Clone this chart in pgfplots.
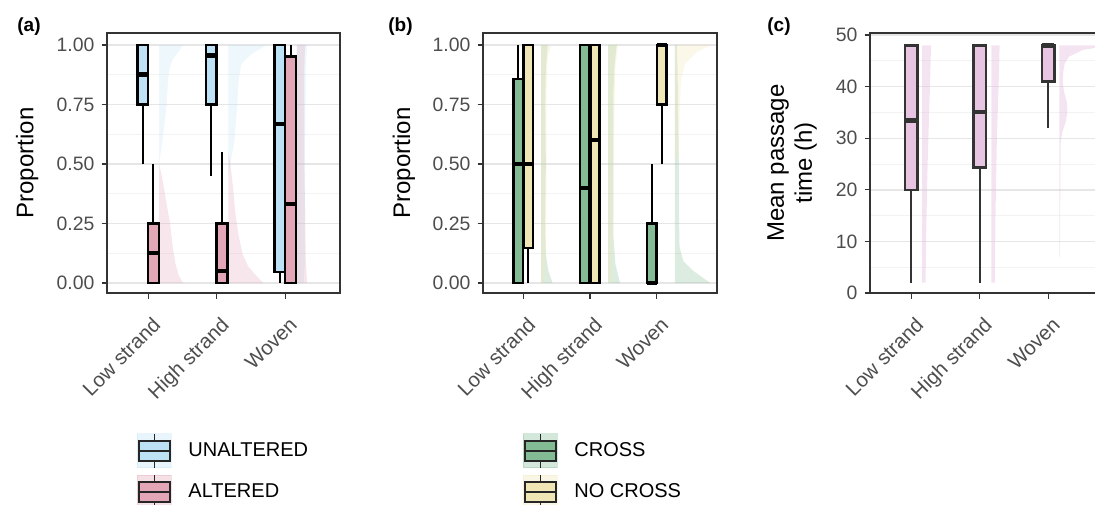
\documentclass[border=0pt]{standalone}
\usepackage{pgfplots}
\pgfplotsset{compat=1.18}
\usepgfplotslibrary{statistics}
\usepackage{fontspec}
\setmainfont{Liberation Sans}

\definecolor{unaltC}{RGB}{190,226,245}
\definecolor{altC}{RGB}{227,166,182}
\definecolor{crossC}{RGB}{130,187,148}
\definecolor{nocrossC}{RGB}{240,229,180}
\definecolor{lilacC}{RGB}{231,196,226}
\definecolor{gray20}{RGB}{51,51,51}
\definecolor{gray30}{RGB}{77,77,77}
\definecolor{gridmaj}{RGB}{230,230,230}
\definecolor{gridmin}{RGB}{243,243,243}

\pgfplotsset{
  panel/.style={
    scale only axis, anchor=south west, height=130pt,
    axis line style={gray20, line width=0.6pt},
    tick align=outside, xtick pos=left, ytick pos=left,
    major tick length=2.75pt, minor tick length=0pt,
    tick style={gray20, line width=0.6pt},
    ymajorgrids, yminorgrids, minor y tick num=1,
    major grid style={gridmaj, line width=0.7pt},
    minor grid style={gridmin, line width=0.4pt},
    xtick={1,2,3}, xticklabels={Low strand,High strand,Woven},
    xticklabel style={xshift=1.5pt, yshift=-8.5pt, rotate=45, anchor=north east, inner sep=0pt, font=\fontsize{10.2}{12}\selectfont, text=gray30},
    yticklabel style={font=\fontsize{9.7}{11}\selectfont, text=gray30},
    /pgf/number format/assume math mode=true,
    ylabel style={font=\fontsize{12}{14}\selectfont, anchor=center},
    boxplot/draw direction=y,
    boxplot/every median/.style={line width=2.2pt},
    boxplot/every whisker/.style={line width=1pt},
    boxplot/every box/.style={line width=1.2pt},
    legend style={draw=none, fill=none, inner sep=0pt, outer sep=0pt, row sep=3pt, anchor=north west, font=\fontsize{10}{12}\selectfont, nodes={inner sep=0pt}},
    legend cell align=left,
  },
  vio/.style={draw=none, fill=#1, fill opacity=0.28, forget plot},
  bxp/.style n args={7}{boxplot prepared={draw position=#1, lower whisker=#2, lower quartile=#3, median=#4, upper quartile=#5, upper whisker=#6, box extend=#7, whisker extend=0}},
  keyimg/.style={legend image code/.code={
    \fill[#1, opacity=0.35] (0pt,-8.5pt) rectangle (17pt,8.5pt);
    \draw[black!85, line width=0.8pt] (8.5pt,-8.5pt) -- (8.5pt,8.5pt);
    \filldraw[fill=#1, draw=black!85, line width=1.1pt] (0.8pt,-5pt) rectangle (16.2pt,5pt);
    \draw[black!85, line width=1.1pt] (0.8pt,0pt) -- (16.2pt,0pt);
    \path[draw=none, fill=none] (0pt,0pt) rectangle (25.5pt,0.1pt);
  }},
}

\begin{document}
\begin{tikzpicture}
% ---------------- panel (a) ----------------
\begin{axis}[panel, at={(53.5pt,105.5pt)}, width=116.5pt,
  xmin=0.4, xmax=3.8, ymin=-0.042, ymax=1.05,
  ytick={0,0.25,0.5,0.75,1}, yticklabels={0.00,0.25,0.50,0.75,1.00},
  ylabel={Proportion}, ylabel style={at={(axis description cs:-0.343,0.5)}},
  legend style={at={(0.129,-0.538)}}]
\addplot[vio=unaltC] coordinates {(1.16,0.5) (1.17,0.52) (1.2,0.58) (1.24,0.67) (1.27,0.75) (1.29,0.85) (1.31,0.9) (1.36,0.94) (1.44,0.97) (1.51,1.0) (1.16,1.0)};
\addplot[vio=altC] coordinates {(1.16,0) (1.51,0) (1.45,0.03) (1.4,0.08) (1.36,0.15) (1.32,0.25) (1.26,0.35) (1.2,0.45) (1.16,0.5)};
\addplot[vio=unaltC] coordinates {(2.17,0.45) (2.2,0.5) (2.26,0.6) (2.3,0.75) (2.32,0.85) (2.36,0.92) (2.5,0.96) (2.73,1.0) (2.17,1.0)};
\addplot[vio=altC] coordinates {(2.17,0) (2.68,0) (2.58,0.03) (2.46,0.07) (2.38,0.12) (2.32,0.2) (2.27,0.3) (2.24,0.4) (2.2,0.5) (2.17,0.55)};
\addplot[vio=unaltC] coordinates {(3.17,0) (3.27,0) (3.29,0.1) (3.29,0.5) (3.3,0.9) (3.32,1.0) (3.17,1.0)};
\addplot[vio=altC] coordinates {(3.17,0) (3.32,0) (3.3,0.1) (3.28,0.5) (3.28,0.9) (3.29,1.0) (3.17,1.0)};
\addplot[bxp={0.922}{0.5}{0.75}{0.875}{1}{1}{0.155}, fill=unaltC, draw=black, keyimg=unaltC] coordinates {};
\addlegendentry{UNALTERED}
\addplot[bxp={1.078}{0}{0}{0.125}{0.25}{0.5}{0.155}, fill=altC, draw=black, keyimg=altC] coordinates {};
\addlegendentry{ALTERED}
\addplot[bxp={1.922}{0.45}{0.75}{0.955}{1}{1}{0.155}, fill=unaltC, draw=black, forget plot] coordinates {};
\addplot[bxp={2.078}{0}{0}{0.05}{0.25}{0.55}{0.155}, fill=altC, draw=black, forget plot] coordinates {};
\addplot[bxp={2.922}{0}{0.045}{0.667}{1}{1}{0.155}, fill=unaltC, draw=black, forget plot] coordinates {};
\addplot[bxp={3.078}{0}{0}{0.333}{0.952}{1}{0.155}, fill=altC, draw=black, forget plot] coordinates {};
\end{axis}
% ---------------- panel (b) ----------------
\begin{axis}[panel, at={(241.5pt,105.5pt)}, width=117pt,
  xmin=0.4, xmax=3.9, ymin=-0.042, ymax=1.05,
  ytick={0,0.25,0.5,0.75,1}, yticklabels={0.00,0.25,0.50,0.75,1.00},
  ylabel={Proportion}, ylabel style={at={(axis description cs:-0.338,0.5)}},
  legend style={at={(0.171,-0.538)}}]
\addplot[vio=crossC] coordinates {(1.27,0) (1.44,0) (1.38,0.05) (1.34,0.12) (1.33,0.25) (1.34,0.5) (1.33,0.75) (1.34,0.9) (1.37,1.0) (1.27,1.0)};
\addplot[vio=nocrossC] coordinates {(1.27,0) (1.32,0) (1.34,0.15) (1.35,0.5) (1.35,0.8) (1.37,0.95) (1.42,1.0) (1.27,1.0)};
\addplot[vio=crossC] coordinates {(2.27,0) (2.45,0) (2.38,0.08) (2.35,0.2) (2.35,0.5) (2.35,0.8) (2.37,0.92) (2.4,1.0) (2.27,1.0)};
\addplot[vio=nocrossC] coordinates {(2.27,0) (2.33,0) (2.35,0.3) (2.36,0.6) (2.38,0.9) (2.42,1.0) (2.27,1.0)};
\addplot[vio=crossC] coordinates {(3.27,0) (3.8,0) (3.7,0.02) (3.55,0.05) (3.4,0.09) (3.34,0.15) (3.33,0.3) (3.33,0.5) (3.32,0.7) (3.31,0.9) (3.3,1.0) (3.27,1.0)};
\addplot[vio=nocrossC] coordinates {(3.27,0.5) (3.33,0.55) (3.34,0.7) (3.36,0.85) (3.42,0.92) (3.6,0.97) (3.82,1.0) (3.27,1.0)};
\addplot[bxp={0.925}{0}{0}{0.5}{0.856}{1}{0.14}, fill=crossC, draw=black, keyimg=crossC] coordinates {};
\addlegendentry{CROSS}
\addplot[bxp={1.075}{0}{0.146}{0.5}{1}{1}{0.14}, fill=nocrossC, draw=black, keyimg=nocrossC] coordinates {};
\addlegendentry{NO CROSS}
\addplot[bxp={1.925}{0}{0}{0.4}{1}{1}{0.14}, fill=crossC, draw=black, forget plot] coordinates {};
\addplot[bxp={2.075}{0}{0}{0.6}{1}{1}{0.14}, fill=nocrossC, draw=black, forget plot] coordinates {};
\addplot[bxp={2.925}{0}{0}{0}{0.25}{0.5}{0.14}, fill=crossC, draw=black, forget plot] coordinates {};
\addplot[bxp={3.075}{0.5}{0.75}{1}{1}{1}{0.14}, fill=nocrossC, draw=black, forget plot] coordinates {};
\end{axis}
% ---------------- panel (c) ----------------
\begin{axis}[panel, at={(435pt,105.5pt)}, width=120pt,
  xmin=0.4, xmax=3.9, ymin=0, ymax=50.4,
  ytick={0,10,20,30,40,50}, yticklabels={0,10,20,30,40,50},
  ylabel={Mean passage\\time (h)}, ylabel style={align=center, at={(axis description cs:-0.325,0.5)}}]
\addplot[vio=lilacC, fill opacity=0.45] coordinates {(1.16,2) (1.21,2) (1.22,12) (1.24,25) (1.27,38) (1.29,48) (1.16,48)};
\addplot[vio=lilacC, fill opacity=0.45] coordinates {(2.17,2) (2.22,2) (2.23,15) (2.25,30) (2.28,42) (2.29,48) (2.17,48)};
\addplot[vio=lilacC, fill opacity=0.45] coordinates {(3.16,7) (3.17,7) (3.175,20) (3.18,29) (3.2,31) (3.25,33) (3.28,35) (3.27,37) (3.23,39) (3.21,41) (3.22,43) (3.24,44.5) (3.3,45.8) (3.5,47.1) (3.9,48) (3.16,48)};
\addplot[bxp={1}{2}{20}{33.4}{48}{48}{0.18}, fill=lilacC, draw=gray20] coordinates {};
\addplot[bxp={2}{2}{24.3}{35.1}{48}{48}{0.18}, fill=lilacC, draw=gray20] coordinates {};
\addplot[bxp={3}{32}{41}{48}{48}{48}{0.18}, fill=lilacC, draw=gray20] coordinates {};
\end{axis}
% panel labels
\node[anchor=north west, inner sep=0pt, font=\bfseries\fontsize{9.5}{11}\selectfont] at (8.5pt,243.5pt) {(a)};
\node[anchor=north west, inner sep=0pt, font=\bfseries\fontsize{9.5}{11}\selectfont] at (194pt,243.5pt) {(b)};
\node[anchor=north west, inner sep=0pt, font=\bfseries\fontsize{9.5}{11}\selectfont] at (383.5pt,243.5pt) {(c)};
\pgfresetboundingbox
\useasboundingbox (0pt,0pt) rectangle (547.5pt,252pt);
\end{tikzpicture}
\end{document}
